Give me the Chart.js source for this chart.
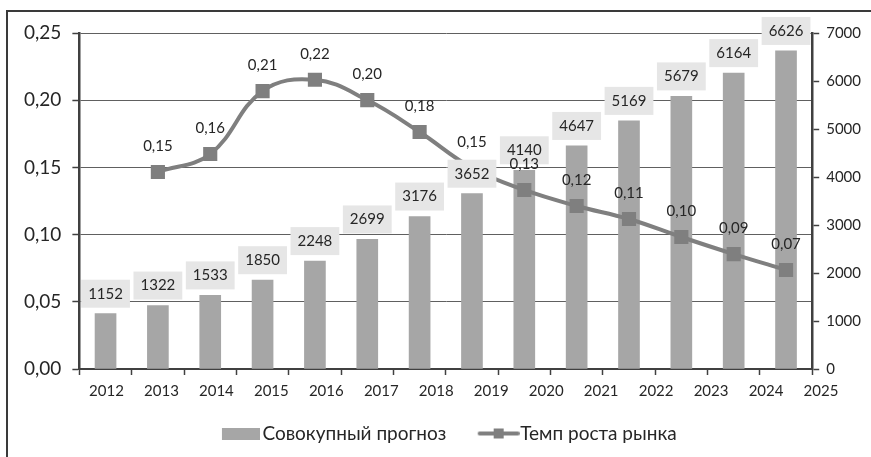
<!DOCTYPE html>
<html>
<head>
<meta charset="utf-8">
<script src="https://cdn.jsdelivr.net/npm/chart.js@4.4.1/dist/chart.umd.min.js"></script>
<style>
  html, body { margin: 0; padding: 0; background: #fff; }
  #wrap { position: relative; width: 871px; height: 457px; overflow: hidden; }
  #frame { position: absolute; left: 6px; top: 10px; width: 900px; height: 500px;
           border-left: 2px solid #3a3a3a; border-top: 2px solid #3a3a3a; }
  #myChart { position: absolute; left: 0; top: 0; }
</style>
</head>
<body>
<div id="wrap">
  <div id="frame"></div>
  <canvas id="myChart" width="871" height="457"></canvas>
</div>
<script>
const years = ['2012','2013','2014','2015','2016','2017','2018','2019','2020','2021','2022','2023','2024','2025'];
const forecast = [1152, 1322, 1533, 1850, 2248, 2699, 3176, 3652, 4140, 4647, 5169, 5679, 6164, 6626];
const growth = [null, 0.1466, 0.160, 0.2068, 0.2152, 0.2001, 0.1763, 0.1496, 0.1332, 0.1213, 0.1116, 0.0982, 0.0855, 0.0737];
const seriesNames = ['Совокупный прогноз', 'Темп роста рынка'];

const FONT = "Lato, 'Noto Sans', sans-serif";
const textColor = '#262626';
const axisColor = '#404040';
const barColor = '#a6a6a6';
const lineColor = '#7f7f7f';

// legend icons (extra transparent room on the left pushes the swatch towards its text)
function makeBarIcon() {
  const c = document.createElement('canvas');
  c.width = 52; c.height = 12;
  const g = c.getContext('2d');
  g.fillStyle = barColor;
  g.fillRect(14, 0, 38, 12);
  return c;
}
function makeLineIcon() {
  const c = document.createElement('canvas');
  c.width = 56; c.height = 12;
  const g = c.getContext('2d');
  g.strokeStyle = lineColor;
  g.lineWidth = 4;
  g.lineCap = 'round';
  g.beginPath(); g.moveTo(16, 6); g.lineTo(54, 6); g.stroke();
  g.fillStyle = lineColor;
  g.fillRect(30, 1, 10, 10);
  return c;
}
const legendIcons = [makeBarIcon(), makeLineIcon()];

const valueLabels = {
  id: 'valueLabels',
  afterDatasetsDraw(chart) {
    const ctx = chart.ctx;
    ctx.save();
    ctx.font = '15px ' + FONT;
    ctx.textAlign = 'center';
    ctx.textBaseline = 'middle';
    chart.getDatasetMeta(0).data.forEach((bar, i) => {
      const text = String(forecast[i]);
      const w = ctx.measureText(text).width + 14;
      const cy = bar.y - 20;
      ctx.fillStyle = '#e6e6e6';
      ctx.fillRect(bar.x - w / 2, cy - 14, w, 28);
      ctx.fillStyle = textColor;
      ctx.fillText(text, bar.x, cy);
    });
    ctx.fillStyle = textColor;
    chart.getDatasetMeta(1).data.forEach((pt, i) => {
      if (growth[i] == null) return;
      ctx.fillText(growth[i].toFixed(2).replace('.', ','), pt.x, pt.y - 26);
    });
    ctx.restore();
  }
};

const ctx = document.getElementById('myChart').getContext('2d');
const myChart = new Chart(ctx, {
  plugins: [valueLabels],
  data: {
    labels: years,
    datasets: [{
      type: 'bar',
      label: seriesNames[0],
      data: forecast,
      xAxisID: 'x',
      yAxisID: 'y1',
      backgroundColor: barColor,
      barThickness: 21,
      order: 2
    }, {
      type: 'line',
      label: seriesNames[1],
      data: growth,
      xAxisID: 'x',
      yAxisID: 'y',
      borderColor: lineColor,
      borderWidth: 4,
      tension: 0.4,
      pointStyle: 'rect',
      pointRadius: 10,
      pointHoverRadius: 10,
      pointBackgroundColor: lineColor,
      pointBorderWidth: 0,
      order: 1
    }]
  },
  options: {
    responsive: false,
    animation: false,
    layout: { padding: { left: 13, right: 3, top: 33, bottom: 4 } },
    scales: {
      x: {
        type: 'category',
        offset: true,
        weight: 0,
        grid: { offset: true, drawOnChartArea: false, tickLength: 6, tickColor: axisColor, tickWidth: 1.5 },
        border: { color: axisColor, width: 2 },
        ticks: { display: false }
      },
      xt: {
        type: 'linear',
        position: 'bottom',
        weight: 1,
        min: 2011.507,
        max: 2024.84,
        afterBuildTicks: axis => { axis.ticks = years.map(y => ({ value: Number(y) })); },
        grid: { display: false, drawTicks: false },
        border: { display: false },
        ticks: { autoSkip: false, maxRotation: 0, padding: 7, color: textColor,
                 font: { family: FONT, size: 15 }, callback: v => String(v) }
      },
      y: {
        position: 'left',
        min: 0,
        max: 0.25,
        ticks: { stepSize: 0.05, padding: 11, color: textColor, font: { family: FONT, size: 19 },
                 callback: v => Number(v).toFixed(2).replace('.', ',') },
        grid: { color: '#606060', lineWidth: 1, tickLength: 7, tickColor: axisColor, tickWidth: 1.5 },
        border: { color: axisColor, width: 2.5 }
      },
      y1: {
        position: 'right',
        min: 0,
        max: 7000,
        ticks: { stepSize: 1000, padding: 7, color: textColor, font: { family: FONT, size: 15 },
                 callback: v => String(v) },
        grid: { drawOnChartArea: false, tickLength: 7, tickColor: axisColor, tickWidth: 1.5 },
        border: { color: axisColor, width: 2.5 }
      }
    },
    plugins: {
      tooltip: { enabled: false },
      legend: {
        position: 'bottom',
        fullSize: false,
        maxHeight: 46,
        labels: {
          usePointStyle: true,
          pointStyleWidth: 38,
          padding: 17,
          color: textColor,
          font: { family: FONT, size: 19 },
          generateLabels: chart => chart.data.datasets.map((ds, i) => ({
            text: i === 0 ? ds.label + '\u2002' : ds.label,
            pointStyle: legendIcons[i],
            fillStyle: 'transparent',
            strokeStyle: 'transparent',
            lineWidth: 0,
            fontColor: textColor,
            datasetIndex: i,
            hidden: false
          }))
        }
      }
    }
  }
});
</script>
</body>
</html>
